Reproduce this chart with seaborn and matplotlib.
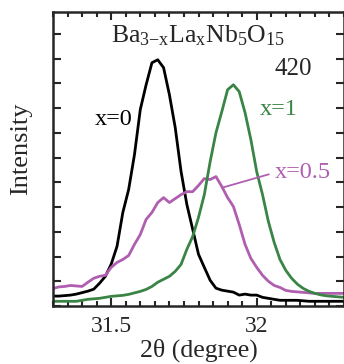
import numpy as np
import pandas as pd
import matplotlib
matplotlib.use("Agg")
import matplotlib.pyplot as plt
import seaborn as sns
from matplotlib.ticker import MultipleLocator

# ---- data ----
two_theta = [31.30, 31.32, 31.34, 31.36, 31.38, 31.40, 31.42, 31.44, 31.46, 31.48,
             31.50, 31.52, 31.54, 31.56, 31.58, 31.60, 31.62, 31.64, 31.66, 31.68,
             31.70, 31.72, 31.74, 31.76, 31.78, 31.80, 31.82, 31.84, 31.86, 31.88,
             31.90, 31.92, 31.94, 31.96, 31.98, 32.00, 32.02, 32.04, 32.06, 32.08,
             32.10, 32.12, 32.14, 32.16, 32.18, 32.20, 32.22, 32.24, 32.26, 32.28, 32.30]

int_x0 = [0.40, 0.40, 0.42, 0.44, 0.48, 0.54, 0.60, 0.68, 0.92, 1.20,
          1.69, 2.41, 3.78, 4.71, 6.12, 7.94, 8.94, 9.83, 9.95, 9.63,
          8.54, 7.21, 5.44, 4.10, 3.10, 2.09, 1.56, 1.04, 0.72, 0.64,
          0.60, 0.56, 0.44, 0.48, 0.44, 0.44, 0.35, 0.31, 0.27, 0.23,
          0.23, 0.23, 0.23, 0.21, 0.19, 0.19, 0.19, 0.19, 0.19, 0.19, 0.19]

int_x05 = [0.71, 0.77, 0.79, 0.83, 0.81, 0.79, 0.96, 1.12, 1.20, 1.24,
           1.56, 1.76, 1.88, 2.04, 2.49, 2.89, 3.50, 3.78, 4.18, 4.38,
           4.18, 4.34, 4.50, 4.62, 4.62, 4.87, 5.15, 5.11, 5.23, 4.83,
           4.38, 4.02, 3.29, 2.49, 1.92, 1.56, 1.24, 1.00, 0.83, 0.75,
           0.63, 0.59, 0.57, 0.55, 0.53, 0.51, 0.51, 0.51, 0.51, 0.51, 0.51]

int_x1 = [0.19, 0.19, 0.19, 0.19, 0.19, 0.23, 0.27, 0.29, 0.31, 0.35,
          0.39, 0.41, 0.43, 0.47, 0.53, 0.59, 0.67, 0.79, 0.96, 1.08,
          1.20, 1.40, 1.68, 2.29, 2.81, 3.58, 4.50, 5.83, 7.00, 7.85,
          8.74, 8.94, 8.66, 7.81, 6.72, 5.43, 4.50, 3.42, 2.57, 1.88,
          1.44, 1.12, 0.88, 0.71, 0.59, 0.51, 0.45, 0.41, 0.39, 0.37, 0.35]

series_labels = ["x=0", "x=0.5", "x=1"]
series_colors = ["#000000", "#b05fb0", "#3a8446"]
xtick_values = [31.5, 32.0]
xtick_labels = ["31.5", "32"]

# ---- style ----
sns.set_style("ticks")
plt.rcParams["font.family"] = ["Liberation Serif", "DejaVu Serif"]
plt.rcParams["mathtext.fontset"] = "custom"
plt.rcParams["mathtext.rm"] = "Liberation Serif"
plt.rcParams["mathtext.it"] = "Liberation Serif:italic"

fig = plt.figure(figsize=(3.44, 3.64), dpi=100)
ax = fig.add_axes([53/344, 1 - 306/364, 291/344, 294/364])

df = pd.DataFrame({"2theta": two_theta, "x=0": int_x0, "x=0.5": int_x05, "x=1": int_x1})
for lab, col in zip(series_labels, series_colors):
    sns.lineplot(data=df, x="2theta", y=lab, color=col, linewidth=2.0, ax=ax,
                 sort=False, legend=False)

ax.set_xlim(31.3, 32.3)
ax.set_ylim(0, 11.88)
ax.set_xticks(xtick_values)
ax.set_xticklabels(xtick_labels)
ax.xaxis.set_minor_locator(MultipleLocator(0.05))
ax.yaxis.set_major_locator(MultipleLocator(1))
ax.set_yticklabels([])

ax.tick_params(which="both", direction="in", top=True, right=True, width=1.5)
ax.tick_params(which="major", length=6, labelsize=17, pad=7)
ax.tick_params(which="minor", length=3.5)
for s in ax.spines.values():
    s.set_linewidth(1.8)

ax.set_xlabel("2θ (degree)", fontsize=18.5, labelpad=1)
ax.set_ylabel("Intensity", fontsize=19)
ax.yaxis.set_label_coords(-0.072, 0.534)

ax.text(0.5, 0.897, r"Ba$_{\mathrm{3{-}x}}$La$_{\mathrm{x}}$Nb$_{\mathrm{5}}$O$_{\mathrm{15}}$",
        transform=ax.transAxes, ha="center", va="baseline", fontsize=18.5)
ax.text(32.06, 9.58, "420", ha="left", va="center", fontsize=18)
ax.text(31.572, 7.53, series_labels[0], ha="right", va="center", fontsize=17.5, color=series_colors[0])
ax.text(32.012, 7.93, series_labels[2], ha="left", va="center", fontsize=17.5, color=series_colors[2])
ax.annotate(series_labels[1], xy=(31.884, 4.79), xytext=(32.062, 5.39),
            ha="left", va="center", fontsize=17.5, color=series_colors[1],
            arrowprops=dict(arrowstyle="-", color=series_colors[1], lw=1.3,
                            relpos=(0, 0.5), shrinkA=2, shrinkB=0))

fig.savefig("out.png", dpi=100)
